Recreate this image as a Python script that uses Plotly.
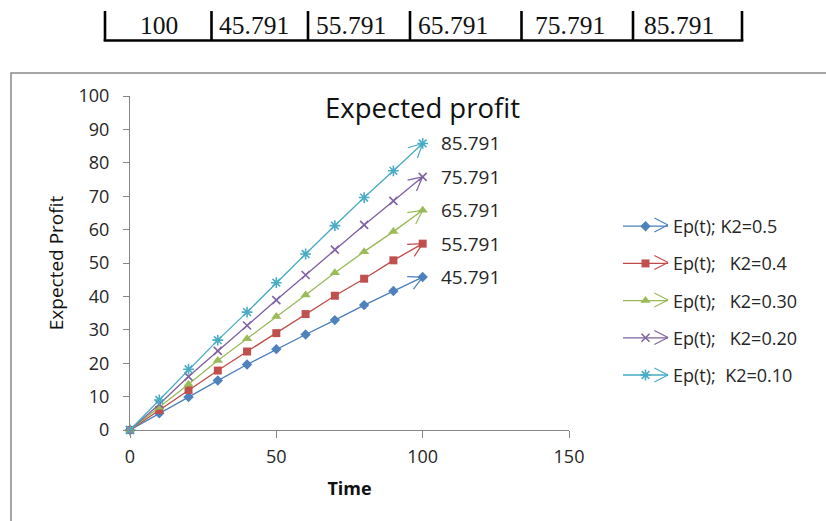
import math
import plotly.graph_objects as go

# ---- data -------------------------------------------------------------
time = [0, 10, 20, 30, 40, 50, 60, 70, 80, 90, 100]

ep_k2_050 = [0, 5.0, 9.9, 14.8, 19.6, 24.2, 28.6, 32.9, 37.4, 41.6, 45.791]
ep_k2_040 = [0, 6.0, 12.0, 17.8, 23.5, 29.0, 34.7, 40.2, 45.3, 50.8, 55.791]
ep_k2_030 = [0, 6.8, 13.7, 20.8, 27.3, 34.0, 40.4, 47.1, 53.4, 59.4, 65.791]
ep_k2_020 = [0, 7.7, 16.0, 23.7, 31.3, 38.9, 46.4, 54.0, 61.4, 68.6, 75.791]
ep_k2_010 = [0, 9.0, 18.2, 26.9, 35.3, 44.1, 52.7, 61.2, 69.6, 77.6, 85.791]

NB = "\u00a0"
series_names = [
    "Ep(t); K2=0.5",
    "Ep(t);" + NB * 3 + "K2=0.4",
    "Ep(t);" + NB * 3 + "K2=0.30",
    "Ep(t);" + NB * 3 + "K2=0.20",
    "Ep(t);" + NB * 2 + "K2=0.10",
]
series_values = [ep_k2_050, ep_k2_040, ep_k2_030, ep_k2_020, ep_k2_010]

# table row printed above the chart
table_cells = ["100", "45.791", "55.791", "65.791", "75.791", "85.791"]

x_range = [0, 150]
y_range = [0, 100]
x_ticks = [0, 50, 100, 150]

# ---- styling ----------------------------------------------------------
FONT = "Open Sans"
SERIF = "Liberation Serif"
TEXT = "#262626"
AXIS = "#868686"

line_colors = ["#4A7EBB", "#BE4B48", "#98B954", "#7D60A0", "#46AAC5"]
marker_colors = ["#4F81BD", "#C0504D", "#9BBB59", "#8064A2", "#4BACC6"]
marker_symbols = ["diamond", "square", "triangle-up", "x-thin-open", "asterisk-open"]
marker_sizes = [8, 8, 9, 8, 9]
marker_lines = [0, 0, 0, 1.6, 1.6]

FIG_W, FIG_H = 826, 521
M_L, M_R, M_T, M_B = 130, 257, 96, 91
PLOT_W = FIG_W - M_L - M_R
PLOT_H = FIG_H - M_T - M_B

# open arrow head: arm length (px) and half angle
ARM_LEN = 17
ARM_ANGLE = math.radians(27)


def px_x(p):
    """page pixel column -> paper x"""
    return (p - M_L) / PLOT_W


def px_y(p):
    """page pixel row -> paper y"""
    return (FIG_H - M_B - p) / PLOT_H


def arrow_arms(dx, dy):
    """pixel offsets of the two arms of an open arrow pointing along (dx, dy) (screen coords)"""
    n = math.hypot(dx, dy)
    bx, by = -dx / n, -dy / n
    arms = []
    for s in (1, -1):
        c, si = math.cos(s * ARM_ANGLE), math.sin(s * ARM_ANGLE)
        arms.append((ARM_LEN * (bx * c - by * si), ARM_LEN * (bx * si + by * c)))
    return arms


fig = go.Figure()

sx = PLOT_W / (x_range[1] - x_range[0])
sy = PLOT_H / (y_range[1] - y_range[0])

for name, ys, lc, mc, sym, ms, mlw in zip(series_names, series_values, line_colors,
                                            marker_colors, marker_symbols, marker_sizes,
                                            marker_lines):
    fig.add_trace(go.Scatter(
        x=time, y=ys, mode="lines+markers", name=name, legendgroup=name,
        line=dict(color=lc, width=1.3),
        marker=dict(symbol=sym, size=ms, color=mc, line=dict(color=mc, width=mlw)),
        cliponaxis=False,
    ))
    # value label at the end of each curve
    fig.add_annotation(
        x=time[-1], y=ys[-1], xref="x", yref="y", text=f"{ys[-1]:.3f}",
        showarrow=False, xanchor="left", yanchor="middle", xshift=16,
        font=dict(family=FONT, size=19, color=TEXT),
    )
    # open arrow head along the final segment
    dxp = (time[-1] - time[-2]) * sx
    dyp = -(ys[-1] - ys[-2]) * sy
    for ax, ay in arrow_arms(dxp, dyp):
        fig.add_annotation(
            x=time[-1], y=ys[-1], xref="x", yref="y", ax=ax, ay=ay, text="",
            showarrow=True, arrowhead=0, arrowwidth=1.2, arrowcolor=lc, standoff=0,
        )

# legend rows and their arrow heads
LEG_LEFT = 618
LEG_ROW0 = 225
LEG_PITCH = 37.5
for i, lc in enumerate(line_colors):
    for ax, ay in arrow_arms(1, 0):
        fig.add_annotation(
            x=px_x(LEG_LEFT + 50), y=px_y(LEG_ROW0 + i * LEG_PITCH),
            xref="paper", yref="paper", ax=ax, ay=ay, text="",
            showarrow=True, arrowhead=0, arrowwidth=1.1, arrowcolor=lc, standoff=0,
        )

shapes = []
# chart frame
shapes.append(dict(type="rect", xref="paper", yref="paper",
                   x0=px_x(11), x1=px_x(960), y0=px_y(620), y1=px_y(73),
                   line=dict(color="#898989", width=1.5), layer="below"))

# table rules
col_edges = [105, 211.5, 308, 410, 521.5, 633, 742]
for cx in col_edges:
    shapes.append(dict(type="line", xref="paper", yref="paper",
                       x0=px_x(cx), x1=px_x(cx), y0=px_y(41), y1=px_y(11),
                       line=dict(color="black", width=2.6)))
shapes.append(dict(type="line", xref="paper", yref="paper",
                   x0=px_x(col_edges[0] - 1.3), x1=px_x(col_edges[-1] + 1.3),
                   y0=px_y(40.5), y1=px_y(40.5),
                   line=dict(color="black", width=2.6)))

table_text_x = [158.5, 216.5, 313.5, 415.5, 533, 642]
table_anchor = ["center", "left", "left", "left", "left", "left"]
for txt, tx, anc in zip(table_cells, table_text_x, table_anchor):
    fig.add_annotation(x=px_x(tx), y=px_y(25.5), xref="paper", yref="paper",
                       text=txt, showarrow=False, xanchor=anc, yanchor="middle",
                       font=dict(family=SERIF, size=25.5, color="#111"))

fig.update_layout(
    width=FIG_W, height=FIG_H,
    margin=dict(l=M_L, r=M_R, t=M_T, b=M_B, autoexpand=False),
    paper_bgcolor="white", plot_bgcolor="white",
    shapes=shapes,
    title=dict(text="Expected profit", font=dict(family=FONT, size=27.5, color="#111"),
               x=px_x(422.5), xref="paper", xanchor="center",
               y=1 - 108 / FIG_H, yref="container", yanchor="middle"),
    legend=dict(x=px_x(LEG_LEFT), xanchor="left", y=px_y(208), yanchor="top",
                font=dict(family=FONT, size=18, color=TEXT), itemwidth=45,
                tracegroupgap=10.8, bgcolor="rgba(0,0,0,0)", traceorder="grouped"),
    showlegend=True,
    xaxis=dict(range=x_range, tickvals=x_ticks, showgrid=False, zeroline=False,
               showline=True, linecolor=AXIS, linewidth=1, ticks="outside",
               ticklen=7, tickcolor=AXIS, tickfont=dict(family=FONT, size=18, color=TEXT),
               ticklabelstandoff=3, automargin=False,
               title=dict(text="Time", standoff=15,
                          font=dict(family=FONT, size=18, color="#111", weight="bold"))),
    yaxis=dict(range=y_range, dtick=10, tick0=0, showgrid=False, zeroline=False,
               showline=True, linecolor=AXIS, linewidth=1, ticks="outside",
               ticklen=6, tickcolor=AXIS, tickfont=dict(family=FONT, size=18, color=TEXT),
               ticklabelstandoff=10, automargin=False,
               title=dict(text="Expected Profit", standoff=9,
                          font=dict(family=FONT, size=19, color="#111"))),
)

fig.write_html("out.html")
